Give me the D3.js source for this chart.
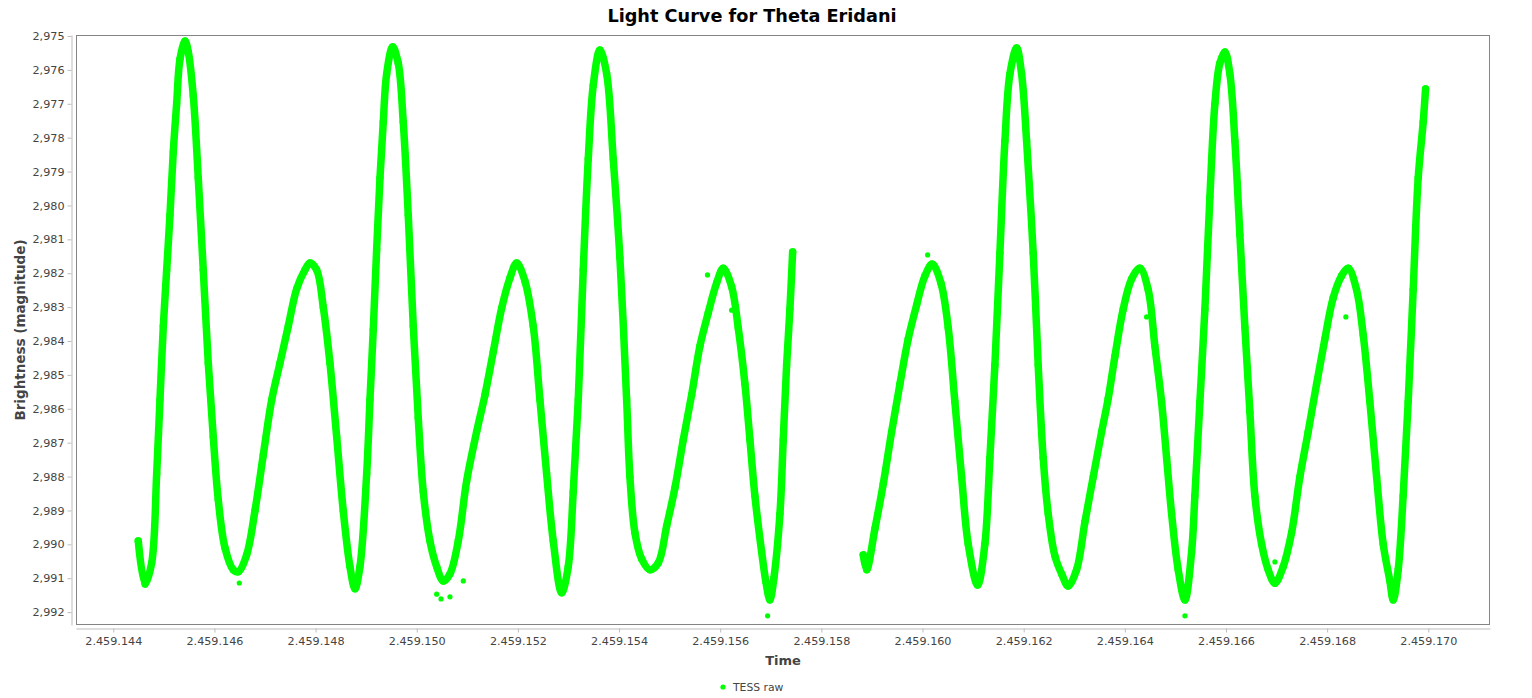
<!DOCTYPE html>
<html>
<head>
<meta charset="utf-8">
<script src="https://cdn.jsdelivr.net/npm/d3@7"></script>
<style>
  body { margin: 0; background: #fff; }
  svg { display: block; }
  text { font-family: "DejaVu Sans", Verdana, sans-serif; }
</style>
</head>
<body>
<svg id="chart" width="1532" height="698"></svg>
<script>
// ---------------- data ----------------
const chartTitle = "Light Curve for Theta Eridani";
const xLabel = "Time";
const yLabel = "Brightness (magnitude)";
const seriesName = "TESS raw";

const timeDomain = [2459143.263, 2459171.22];
const magDomain = [2.97497, 2.99238];

const timeTicks = [2459144, 2459146, 2459148, 2459150, 2459152, 2459154, 2459156,
                   2459158, 2459160, 2459162, 2459164, 2459166, 2459168, 2459170];
const magTicks = [2.975, 2.976, 2.977, 2.978, 2.979, 2.980, 2.981, 2.982, 2.983,
                  2.984, 2.985, 2.986, 2.987, 2.988, 2.989, 2.990, 2.991, 2.992];

// first TESS orbit: [time (JD), magnitude]
const orbit1 = [
  [2459144.494, 2.98990], [2459144.627, 2.99117], [2459144.759, 2.99055], [2459144.858, 2.98792],
  [2459144.923, 2.98574], [2459144.989, 2.98356], [2459145.056, 2.98190], [2459145.121, 2.98028],
  [2459145.186, 2.97842], [2459145.253, 2.97700], [2459145.319, 2.97568], [2459145.418, 2.97515],
  [2459145.483, 2.97547], [2459145.582, 2.97677], [2459145.680, 2.97919], [2459145.779, 2.98190],
  [2459145.878, 2.98465], [2459145.977, 2.98683], [2459146.076, 2.98869], [2459146.208, 2.99010],
  [2459146.372, 2.99075], [2459146.471, 2.99081], [2459146.637, 2.99031], [2459146.801, 2.98901],
  [2459146.966, 2.98736], [2459147.132, 2.98574], [2459147.296, 2.98465], [2459147.460, 2.98356],
  [2459147.626, 2.98246], [2459147.790, 2.98190], [2459147.889, 2.98170], [2459148.021, 2.98190],
  [2459148.152, 2.98300], [2459148.284, 2.98465], [2459148.417, 2.98683], [2459148.547, 2.98901],
  [2459148.680, 2.99066], [2459148.778, 2.99131], [2459148.877, 2.99066], [2459149.010, 2.98792],
  [2459149.075, 2.98574], [2459149.140, 2.98367], [2459149.207, 2.98131], [2459149.273, 2.97919],
  [2459149.338, 2.97754], [2459149.405, 2.97612], [2459149.524, 2.97532], [2459149.634, 2.97580],
  [2459149.733, 2.97754], [2459149.832, 2.98028], [2459149.931, 2.98356], [2459150.030, 2.98627],
  [2459150.129, 2.98845], [2459150.261, 2.98990], [2459150.394, 2.99066], [2459150.524, 2.99108],
  [2459150.657, 2.99087], [2459150.821, 2.98990], [2459150.987, 2.98813], [2459151.184, 2.98668],
  [2459151.349, 2.98559], [2459151.513, 2.98432], [2459151.679, 2.98303], [2459151.843, 2.98214],
  [2459151.975, 2.98170], [2459152.139, 2.98223], [2459152.303, 2.98356], [2459152.436, 2.98574],
  [2459152.568, 2.98792], [2459152.699, 2.98990], [2459152.865, 2.99143], [2459152.995, 2.99066],
  [2459153.094, 2.98845], [2459153.193, 2.98574], [2459153.292, 2.98190], [2459153.391, 2.97863],
  [2459153.490, 2.97645], [2459153.622, 2.97541], [2459153.755, 2.97612], [2459153.885, 2.97863],
  [2459154.017, 2.98155], [2459154.150, 2.98574], [2459154.215, 2.98801], [2459154.314, 2.98966],
  [2459154.447, 2.99043], [2459154.611, 2.99075], [2459154.775, 2.99055], [2459154.941, 2.98946],
  [2459155.105, 2.98833], [2459155.269, 2.98692], [2459155.435, 2.98559], [2459155.599, 2.98415],
  [2459155.763, 2.98317], [2459155.929, 2.98229], [2459156.060, 2.98185], [2459156.226, 2.98240],
  [2459156.356, 2.98361], [2459156.489, 2.98527], [2459156.588, 2.98692], [2459156.686, 2.98857],
  [2459156.819, 2.99022], [2459156.904, 2.99111], [2459156.983, 2.99164], [2459157.062, 2.99099],
  [2459157.181, 2.98910], [2459157.246, 2.98692], [2459157.313, 2.98471], [2459157.378, 2.98306],
  [2459157.432, 2.98137]
];

// second TESS orbit: [time (JD), magnitude]
const orbit2 = [
  [2459158.828, 2.99031], [2459158.895, 2.99075], [2459159.059, 2.98954], [2459159.223, 2.98822],
  [2459159.389, 2.98668], [2459159.553, 2.98527], [2459159.717, 2.98394], [2459159.883, 2.98294],
  [2459160.047, 2.98208], [2459160.192, 2.98173], [2459160.364, 2.98229], [2459160.508, 2.98361],
  [2459160.640, 2.98580], [2459160.773, 2.98801], [2459160.903, 2.98999], [2459161.089, 2.99120],
  [2459161.233, 2.98999], [2459161.332, 2.98745], [2459161.431, 2.98471], [2459161.530, 2.98140],
  [2459161.629, 2.97810], [2459161.728, 2.97612], [2459161.860, 2.97535], [2459161.959, 2.97612],
  [2459162.058, 2.97810], [2459162.188, 2.98140], [2459162.287, 2.98471], [2459162.386, 2.98745],
  [2459162.485, 2.98910], [2459162.617, 2.99034], [2459162.756, 2.99089], [2459162.880, 2.99123],
  [2459163.046, 2.99075], [2459163.211, 2.98934], [2459163.375, 2.98801], [2459163.541, 2.98668],
  [2459163.671, 2.98570], [2459163.804, 2.98445], [2459163.968, 2.98306], [2459164.134, 2.98217],
  [2459164.298, 2.98185], [2459164.462, 2.98249], [2459164.594, 2.98415], [2459164.727, 2.98580],
  [2459164.826, 2.98745], [2459164.925, 2.98910], [2459165.055, 2.99075], [2459165.188, 2.99164],
  [2459165.320, 2.99022], [2459165.385, 2.98857], [2459165.484, 2.98580], [2459165.583, 2.98306],
  [2459165.682, 2.97975], [2459165.781, 2.97700], [2459165.879, 2.97580], [2459165.978, 2.97547],
  [2459166.077, 2.97612], [2459166.176, 2.97810], [2459166.275, 2.98087], [2459166.374, 2.98361],
  [2459166.473, 2.98610], [2459166.571, 2.98857], [2459166.704, 2.98999], [2459166.834, 2.99075],
  [2459166.967, 2.99115], [2459167.131, 2.99066], [2459167.297, 2.98966], [2459167.461, 2.98801],
  [2459167.625, 2.98668], [2459167.791, 2.98527], [2459167.955, 2.98394], [2459168.119, 2.98273],
  [2459168.285, 2.98208], [2459168.416, 2.98185], [2459168.582, 2.98249], [2459168.713, 2.98382],
  [2459168.845, 2.98580], [2459168.978, 2.98801], [2459169.108, 2.98999], [2459169.240, 2.99108],
  [2459169.306, 2.99164], [2459169.405, 2.99075], [2459169.503, 2.98857], [2459169.602, 2.98580],
  [2459169.701, 2.98249], [2459169.800, 2.97919], [2459169.899, 2.97754], [2459169.946, 2.97656]
];

// scattered single measurements away from the main band
const outliers = [
  [2459146.491, 2.99114], [2459150.394, 2.99147], [2459150.480, 2.99161], [2459150.657, 2.99155],
  [2459150.920, 2.99108], [2459155.749, 2.98205], [2459156.226, 2.98309], [2459156.937, 2.99211],
  [2459160.101, 2.98146], [2459164.430, 2.98329], [2459165.188, 2.99211], [2459166.967, 2.99052],
  [2459168.370, 2.98329]
];

// ---------------- drawing ----------------
const W = 1532, H = 698;
const plot = { left: 76, right: 1490, top: 35, bottom: 625 };
const green = "#00ff00";

const svg = d3.select("#chart");
svg.append("rect").attr("width", W).attr("height", H).attr("fill", "#fff");

const x = d3.scaleLinear().domain(timeDomain).range([plot.left, plot.right]);
const y = d3.scaleLinear().domain(magDomain).range([plot.top, plot.bottom]);

svg.append("defs").append("clipPath").attr("id", "clip")
  .append("rect").attr("x", plot.left).attr("y", plot.top)
  .attr("width", plot.right - plot.left).attr("height", plot.bottom - plot.top);

const data = svg.append("g").attr("clip-path", "url(#clip)");

const line = d3.line().x(d => x(d[0])).y(d => y(d[1])).curve(d3.curveCatmullRom.alpha(0.5));
[orbit1, orbit2].forEach(series => {
  data.append("path")
    .attr("d", line(series))
    .attr("fill", "none")
    .attr("stroke", green)
    .attr("stroke-width", 7.5)
    .attr("stroke-linejoin", "round")
    .attr("stroke-linecap", "round");
  data.selectAll(null).data(series).enter().append("circle")
    .attr("cx", d => x(d[0])).attr("cy", d => y(d[1])).attr("r", 3.7).attr("fill", green);
});
data.selectAll(null).data(outliers).enter().append("circle")
  .attr("cx", d => x(d[0])).attr("cy", d => y(d[1])).attr("r", 2.6).attr("fill", green);

// plot outline
svg.append("rect")
  .attr("x", plot.left + 0.5).attr("y", plot.top + 0.5)
  .attr("width", plot.right - plot.left - 1).attr("height", plot.bottom - plot.top - 1)
  .attr("fill", "none").attr("stroke", "#858585");

// axes
const axisColor = "#bdbdbd";
const tickTextColor = "#444";

const yAxis = d3.axisLeft(y).tickValues(magTicks)
  .tickFormat(d => d.toFixed(3).replace(".", ","))
  .tickSize(4).tickSizeOuter(0).tickPadding(3);
const gy = svg.append("g").attr("transform", "translate(71.5,0)").call(yAxis);

const xAxis = d3.axisBottom(x).tickValues(timeTicks)
  .tickFormat(d => d3.format(",")(d).replace(/,/g, "."))
  .tickSize(4).tickSizeOuter(0).tickPadding(5);
const gx = svg.append("g").attr("transform", "translate(0,628.5)").call(xAxis);

[gx, gy].forEach(g => {
  g.select(".domain").attr("stroke", axisColor);
  g.selectAll(".tick line").attr("stroke", axisColor);
  g.selectAll(".tick text").attr("fill", tickTextColor)
    .style("font-size", "11.2px").style("font-family", "'DejaVu Sans', Verdana, sans-serif");
});

// title
svg.append("text")
  .attr("x", 752).attr("y", 21.5).attr("text-anchor", "middle")
  .style("font-size", "17.7px").style("font-weight", "bold").attr("fill", "#000")
  .text(chartTitle);

// axis labels
svg.append("text")
  .attr("x", (plot.left + plot.right) / 2).attr("y", 665).attr("text-anchor", "middle")
  .style("font-size", "13px").style("font-weight", "bold").attr("fill", "#444")
  .text(xLabel);

svg.append("text")
  .attr("transform", `translate(25,${(plot.top + plot.bottom) / 2}) rotate(-90)`)
  .attr("text-anchor", "middle")
  .style("font-size", "13.5px").style("font-weight", "bold").attr("fill", "#444")
  .text(yLabel);

// legend
const legend = svg.append("g").attr("transform", "translate(723,687)");
legend.append("circle").attr("cx", 0).attr("cy", 0).attr("r", 2.6).attr("fill", green);
legend.append("text").attr("x", 10).attr("y", 4).attr("fill", "#444")
  .style("font-size", "10.8px").text(seriesName);
</script>
</body>
</html>
